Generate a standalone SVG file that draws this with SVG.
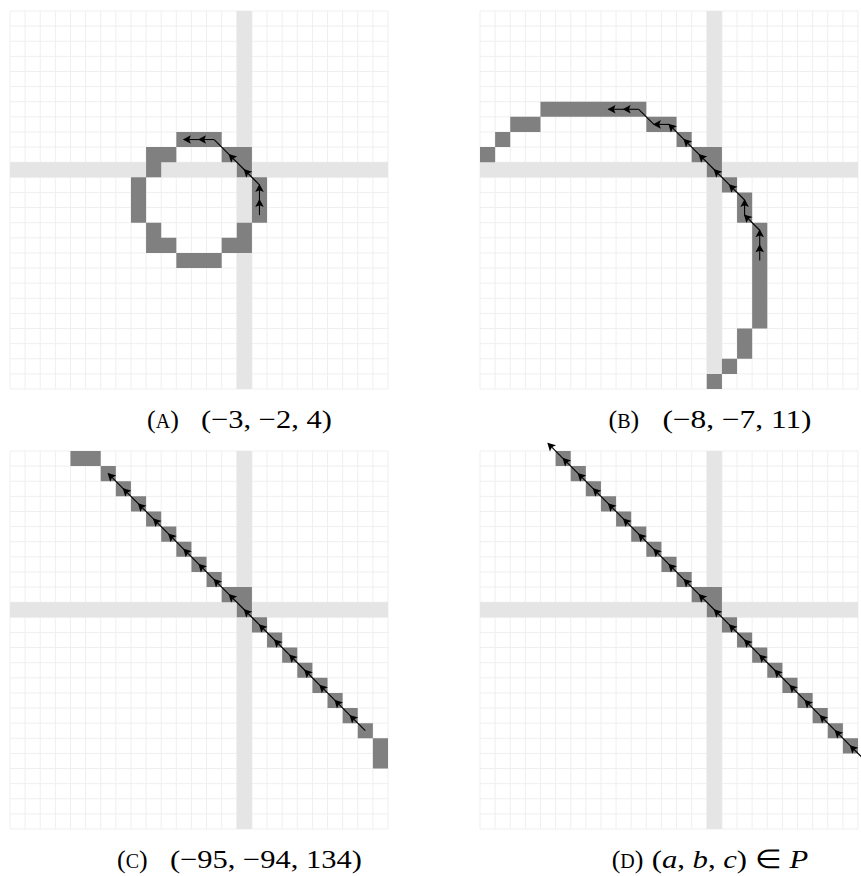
<svg xmlns="http://www.w3.org/2000/svg" xmlns:xlink="http://www.w3.org/1999/xlink" width="861" height="876" viewBox="0 0 861 876">
<style>
.gl{stroke:#efefef;stroke-width:0.0661;fill:none}
.band{fill:#e5e5e5}
.c{fill:#808080}
.ar{stroke:#000;stroke-width:1.1;fill:none;marker-end:url(#ah)}
.nl{stroke:#000;stroke-width:1.1;fill:none}
.pl{stroke:#000;stroke-width:1.1;fill:none;marker-mid:url(#ah);marker-end:url(#ah)}
text{font-family:'Liberation Serif','Times New Roman',serif;font-size:26px;fill:#000}
.it{font-style:italic}
</style>
<defs>
<marker id="ah" markerUnits="userSpaceOnUse" markerWidth="12" markerHeight="12" viewBox="-10 -6 12 12" refX="0" refY="0" orient="auto">
<path d="M1,0 L-7,-4.3 L-5.3,0 L-7,4.3 Z" fill="#000"/>
</marker>
<g id="grid">
<path class="gl" d="M0,0V25M1,0V25M2,0V25M3,0V25M4,0V25M5,0V25M6,0V25M7,0V25M8,0V25M9,0V25M10,0V25M11,0V25M12,0V25M13,0V25M14,0V25M15,0V25M16,0V25M17,0V25M18,0V25M19,0V25M20,0V25M21,0V25M22,0V25M23,0V25M24,0V25M25,0V25M0,0H25M0,1H25M0,2H25M0,3H25M0,4H25M0,5H25M0,6H25M0,7H25M0,8H25M0,9H25M0,10H25M0,11H25M0,12H25M0,13H25M0,14H25M0,15H25M0,16H25M0,17H25M0,18H25M0,19H25M0,20H25M0,21H25M0,22H25M0,23H25M0,24H25M0,25H25"/>
<rect class="band" x="15" y="0" width="1" height="25"/>
<rect class="band" x="0" y="10" width="25" height="1"/>
</g>
</defs>
<rect width="861" height="876" fill="#fff"/>

<g id="panelA" transform="translate(10,11) scale(15.12)">
<use xlink:href="#grid" href="#grid"/>
<path class="c" d="M11,8h3v1h-3z M9,9h2v1h-2z M14,9h2v1h-2z M9,10h1v1h-1z M15,10h1v1h-1z M8,11h1v3h-1z M16,11h1v3h-1z M9,14h1v1h-1z M15,14h1v1h-1z M9,15h2v1h-2z M14,15h2v1h-2z M11,16h3v1h-3z"/>
</g>

<g id="panelB" transform="translate(480,11) scale(15.12)">
<use xlink:href="#grid" href="#grid"/>
<path class="c" d="M4,6h7v1h-7z M2,7h2v1h-2z M11,7h2v1h-2z M1,8h1v1h-1z M13,8h1v1h-1z M0,9h1v1h-1z M14,9h2v1h-2z M15,10h1v1h-1z M16,11h1v1h-1z M17,12h1v2h-1z M18,14h1v7h-1z M17,21h1v2h-1z M16,23h1v1h-1z M15,24h1v1h-1z"/>
</g>

<g id="panelC" transform="translate(10,451) scale(15.12)">
<use xlink:href="#grid" href="#grid"/>
<path class="c" d="M4,0h2v1h-2z M6,1h1v1h-1z M7,2h1v1h-1z M8,3h1v1h-1z M9,4h1v1h-1z M10,5h1v1h-1z M11,6h1v1h-1z M12,7h1v1h-1z M13,8h1v1h-1z M14,9h2v1h-2z M15,10h1v1h-1z M16,11h1v1h-1z M17,12h1v1h-1z M18,13h1v1h-1z M19,14h1v1h-1z M20,15h1v1h-1z M21,16h1v1h-1z M22,17h1v1h-1z M23,18h1v1h-1z M24,19h1v2h-1z"/>
</g>

<g id="panelD" transform="translate(480,451) scale(15.12)">
<use xlink:href="#grid" href="#grid"/>
<path class="c" d="M5,0h1v1h-1z M6,1h1v1h-1z M7,2h1v1h-1z M8,3h1v1h-1z M9,4h1v1h-1z M10,5h1v1h-1z M11,6h1v1h-1z M12,7h1v1h-1z M13,8h1v1h-1z M14,9h2v1h-2z M15,10h1v1h-1z M16,11h1v1h-1z M17,12h1v1h-1z M18,13h1v1h-1z M19,14h1v1h-1z M20,15h1v1h-1z M21,16h1v1h-1z M22,17h1v1h-1z M23,18h1v1h-1z M24,19h1v1h-1z"/>
</g>

<g id="connectors">
<line class="ar" x1="259.48" y1="215.12" x2="259.48" y2="200"/>
<line class="ar" x1="259.48" y1="200" x2="259.48" y2="184.88"/>
<line class="ar" x1="259.48" y1="184.88" x2="244.36" y2="169.76"/>
<line class="ar" x1="244.36" y1="169.76" x2="229.24" y2="154.64"/>
<line class="nl" x1="229.24" y1="154.64" x2="214.12" y2="139.52"/>
<line class="ar" x1="214.12" y1="139.52" x2="199" y2="139.52"/>
<line class="ar" x1="199" y1="139.52" x2="183.88" y2="139.52"/>

<line class="ar" x1="759.72" y1="260.48" x2="759.72" y2="245.36"/>
<line class="ar" x1="759.72" y1="245.36" x2="759.72" y2="230.24"/>
<line class="ar" x1="759.72" y1="230.24" x2="744.6" y2="215.12"/>
<line class="ar" x1="744.6" y1="215.12" x2="744.6" y2="200"/>
<line class="ar" x1="744.6" y1="200" x2="729.48" y2="184.88"/>
<line class="ar" x1="729.48" y1="184.88" x2="714.36" y2="169.76"/>
<line class="ar" x1="714.36" y1="169.76" x2="699.24" y2="154.64"/>
<line class="ar" x1="699.24" y1="154.64" x2="684.12" y2="139.52"/>
<line class="ar" x1="684.12" y1="139.52" x2="669" y2="124.4"/>
<line class="ar" x1="669" y1="124.4" x2="653.88" y2="124.4"/>
<line class="nl" x1="653.88" y1="124.4" x2="638.76" y2="109.28"/>
<line class="ar" x1="638.76" y1="109.28" x2="623.64" y2="109.28"/>
<line class="ar" x1="623.64" y1="109.28" x2="608.52" y2="109.28"/>

<polyline class="pl" points="365.32,730.72 350.2,715.6 335.08,700.48 319.96,685.36 304.84,670.24 289.72,655.12 274.6,640 259.48,624.88 244.36,609.76 229.24,594.64 214.12,579.52 199,564.4 183.88,549.28 168.76,534.16 153.64,519.04 138.52,503.92 123.4,488.8 108.28,473.68"/>

<polyline class="pl" points="865.56,760.96 850.44,745.84 835.32,730.72 820.2,715.6 805.08,700.48 789.96,685.36 774.84,670.24 759.72,655.12 744.6,640 729.48,624.88 714.36,609.76 699.24,594.64 684.12,579.52 669,564.4 653.88,549.28 638.76,534.16 623.64,519.04 608.52,503.92 593.4,488.8 578.28,473.68 563.16,458.56 548.04,443.44"/>
</g>

<g id="captions">
<text x="147" y="428" font-family="Liberation Serif">(<tspan font-size="20">A</tspan>)</text>
<text x="201" y="428" font-family="Liberation Serif" textLength="131" lengthAdjust="spacingAndGlyphs">(−3, −2, 4)</text>
<text x="608.5" y="428" font-family="Liberation Serif">(<tspan font-size="20">B</tspan>)</text>
<text x="662.5" y="428" font-family="Liberation Serif" textLength="149" lengthAdjust="spacingAndGlyphs">(−8, −7, 11)</text>
<text x="117" y="868" font-family="Liberation Serif">(<tspan font-size="20">C</tspan>)</text>
<text x="170" y="868" font-family="Liberation Serif" textLength="192" lengthAdjust="spacingAndGlyphs">(−95, −94, 134)</text>
<text x="611.7" y="868" font-family="Liberation Serif">(<tspan font-size="20">D</tspan>)</text>
<text x="651.7" y="868" font-family="Liberation Serif" textLength="156.6" lengthAdjust="spacingAndGlyphs">(<tspan class="it">a</tspan>, <tspan class="it">b</tspan>, <tspan class="it">c</tspan>) ∈ <tspan class="it">P</tspan></text>
</g>
</svg>
